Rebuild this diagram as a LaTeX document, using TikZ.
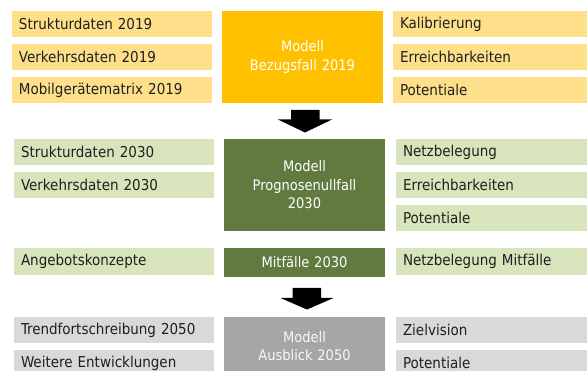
\documentclass[tikz,border=0pt]{standalone}
\usepackage{fontspec}
\setmainfont{DejaVu Sans Condensed}
\begin{document}
\begin{tikzpicture}[x=1pt,y=-1pt,
  every node/.style={inner sep=0pt,outer sep=0pt},
  lbox/.style={fill=#1,anchor=north west,minimum width=200pt,minimum height=26pt,
    text width=186pt,inner xsep=7pt,align=left,text=black!88,font=\fontsize{15}{17}\selectfont},
  rbox/.style={lbox=#1,minimum width=210pt,text width=196pt},
  cbox/.style={fill=#1,anchor=north west,minimum width=161pt,text width=161pt,align=center,
    text=white,font=\fontsize{14.5}{18.5}\selectfont},
  blockarrow/.style={fill=black}]
\useasboundingbox (0,0) rectangle (587,371);
\clip (0,0) rectangle (587,371);
\colorlet{ylight}{rgb,255:red,255;green,224;blue,138}
\colorlet{ydark}{rgb,255:red,255;green,192;blue,0}
\colorlet{glight}{rgb,255:red,216;green,228;blue,188}
\colorlet{gdark}{rgb,255:red,97;green,122;blue,63}
\colorlet{klight}{rgb,255:red,217;green,217;blue,217}
\colorlet{kdark}{rgb,255:red,166;green,166;blue,166}

% base year 2019
\node[lbox=ylight] (s19) at (12,11) {Strukturdaten 2019};
\node[lbox=ylight] (v19) at (12,44) {Verkehrsdaten 2019};
\node[lbox=ylight] (m19) at (12,77) {Mobilgerätematrix 2019};
\node[cbox=ydark,minimum height=92pt] (bezug) at (222,11) {Modell\\Bezugsfall 2019};
\node[rbox=ylight] (kal) at (393,11) {Kalibrierung};
\node[rbox=ylight] (err19) at (393,44) {Erreichbarkeiten};
\node[rbox=ylight] (pot19) at (393,77) {Potentiale};

% forecast 2030
\node[lbox=glight] (s30) at (14,139) {Strukturdaten 2030};
\node[lbox=glight] (v30) at (14,172) {Verkehrsdaten 2030};
\node[lbox=glight,minimum height=27pt] (angebot) at (14,248) {Angebotskonzepte};
\node[cbox=gdark,minimum height=92pt] (prog) at (224,139) {Modell\\Prognosenullfall\\2030};
\node[cbox=gdark,minimum height=29pt] (mit) at (224,248) {Mitfälle 2030};
\node[rbox=glight] (netz) at (396,139) {Netzbelegung};
\node[rbox=glight] (err30) at (396,172) {Erreichbarkeiten};
\node[rbox=glight] (pot30) at (396,205) {Potentiale};
\node[rbox=glight,minimum height=27pt] (netzmit) at (396,248) {Netzbelegung Mitfälle};

% outlook 2050
\node[lbox=klight] (trend) at (14,317) {Trendfortschreibung 2050};
\node[lbox=klight] (weitere) at (14,350) {Weitere Entwicklungen};
\node[cbox=kdark,minimum height=58pt,text=white!92!kdark] (ausblick) at (224,317) {Modell\\Ausblick 2050};
\node[rbox=klight] (ziel) at (396,317) {Zielvision};
\node[rbox=klight] (pot50) at (396,350) {Potentiale};

% block arrows between the model stages
\fill[blockarrow] (291,110) -- (319.5,110) -- (319.5,119.5) -- (332,119.5) -- (305,132.5)
  -- (278,119.5) -- (291,119.5) -- cycle;
\fill[blockarrow] (292.5,288) -- (321,288) -- (321,298) -- (333.5,298) -- (307,309.5)
  -- (280.5,298) -- (292.5,298) -- cycle;
\end{tikzpicture}
\end{document}
